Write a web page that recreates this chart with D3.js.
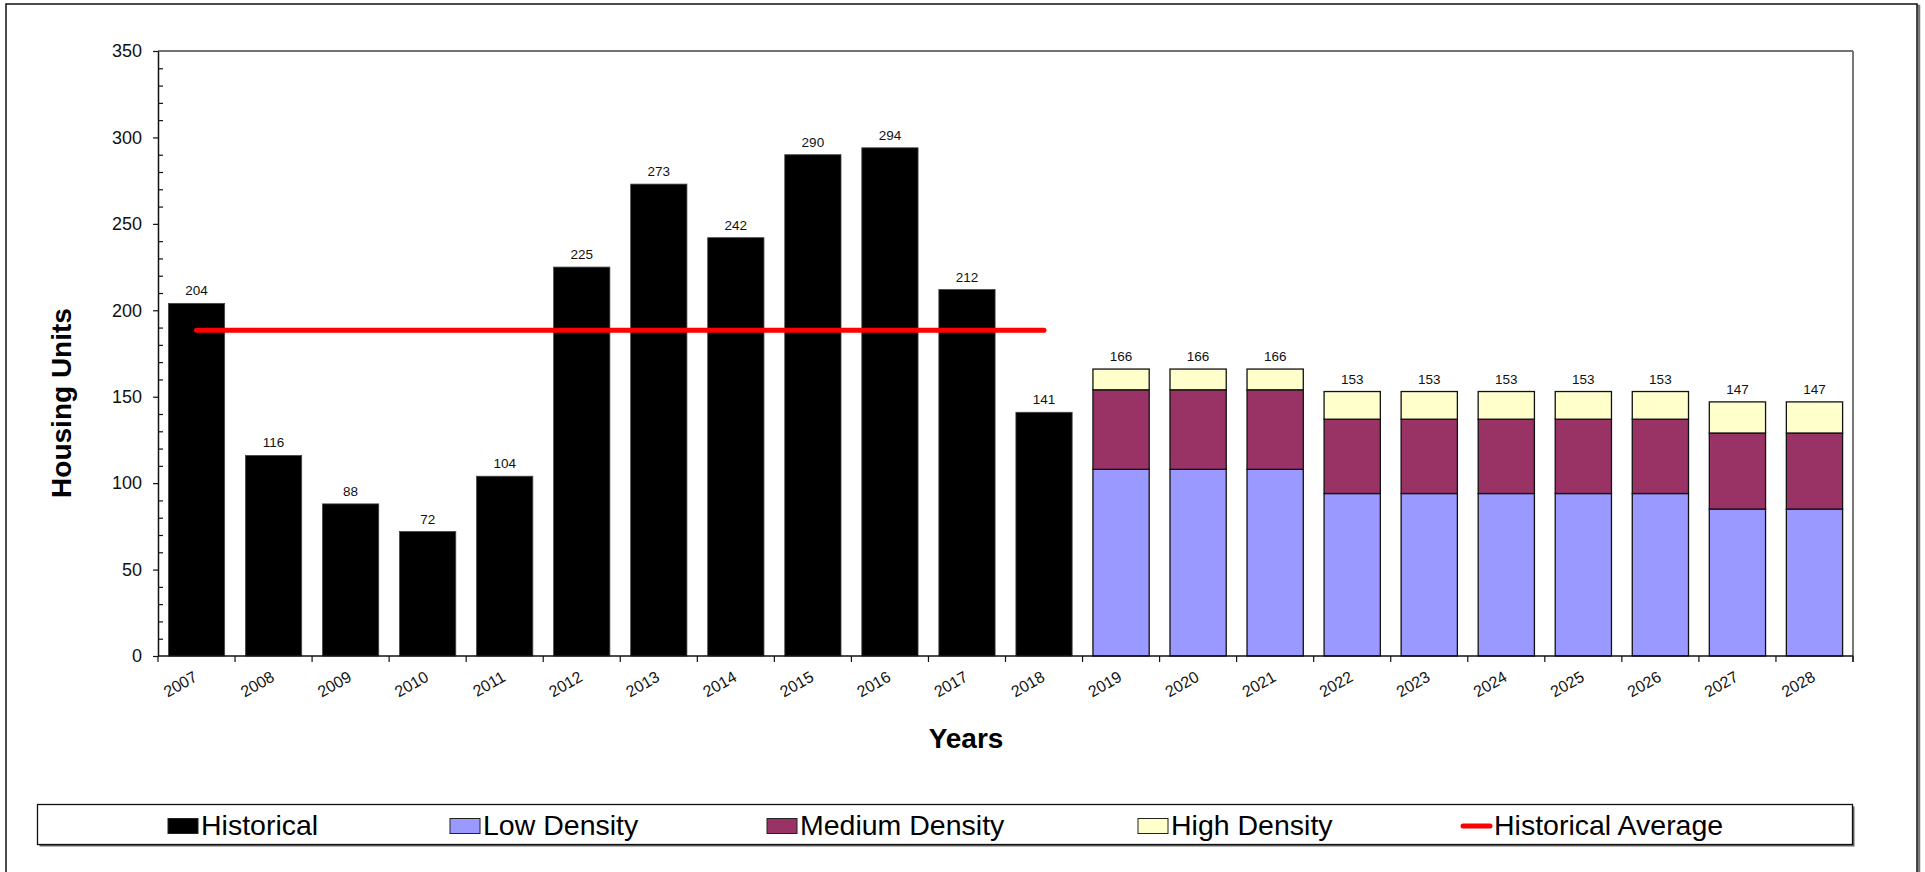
<!DOCTYPE html>
<html>
<head>
<meta charset="utf-8">
<script src="https://cdn.jsdelivr.net/npm/d3@7"></script>
<style>
  html, body { margin: 0; padding: 0; background: #fff; }
  svg { display: block; font-family: "Liberation Sans", Arial, sans-serif; }
</style>
</head>
<body>
<svg id="chart" width="1925" height="872"></svg>
<script>
// Housing units by year: actual completions through 2018, projections by density after
const years = ["2007","2008","2009","2010","2011","2012","2013","2014","2015","2016","2017",
               "2018","2019","2020","2021","2022","2023","2024","2025","2026","2027","2028"];

const historicalYears = ["2007","2008","2009","2010","2011","2012","2013","2014","2015","2016","2017","2018"];
const historical = [204, 116, 88, 72, 104, 225, 273, 242, 290, 294, 212, 141];

const projectionYears = ["2019","2020","2021","2022","2023","2024","2025","2026","2027","2028"];
const lowDensity    = [108, 108, 108, 94, 94, 94, 94, 94, 85, 85];
const mediumDensity = [46, 46, 46, 43, 43, 43, 43, 43, 44, 44];
const highDensity   = [12, 12, 12, 16, 16, 16, 16, 16, 18, 18];

const historicalAverage = [188.4, 188.4, 188.4, 188.4, 188.4, 188.4, 188.4, 188.4, 188.4, 188.4, 188.4, 188.4];

const yTicks = [0, 50, 100, 150, 200, 250, 300, 350];

const legendItems = ["Historical", "Low Density", "Medium Density", "High Density", "Historical Average"];

const colors = { historical: "#000000", low: "#9999FF", medium: "#993366", high: "#FFFFCC", average: "#FF0000" };

const svg = d3.select("#chart");

// outer chart frame (runs off the bottom edge)
svg.append("rect").attr("x", 8).attr("y", 6).attr("width", 1911).attr("height", 900)
  .attr("fill", "none").attr("stroke", "#777").attr("stroke-width", 2.5);
svg.append("rect").attr("x", 6).attr("y", 4).attr("width", 1911).attr("height", 900)
  .attr("fill", "#fff").attr("stroke", "#111").attr("stroke-width", 1.5);

const plotLeft = 158, plotRight = 1853, plotTop = 51, plotBottom = 656;

const x = d3.scaleBand().domain(years).range([plotLeft, plotRight]).paddingInner(0.27).paddingOuter(0.135);
const y = d3.scaleLinear().domain([0, 350]).range([plotBottom, plotTop]);
const step = x.step();
const center = d => x(d) + x.bandwidth() / 2;

// plot area frame (top and right)
svg.append("line").attr("x1", plotLeft).attr("x2", plotRight).attr("y1", plotTop).attr("y2", plotTop)
  .attr("stroke", "#444").attr("stroke-width", 1.5);
svg.append("line").attr("x1", plotRight).attr("x2", plotRight).attr("y1", plotTop).attr("y2", plotBottom + 6)
  .attr("stroke", "#777").attr("stroke-width", 2);

// historical bars
svg.append("g").selectAll("rect").data(historicalYears).join("rect")
  .attr("x", d => x(d)).attr("width", x.bandwidth())
  .attr("y", (d, i) => y(historical[i])).attr("height", (d, i) => y(0) - y(historical[i]))
  .attr("fill", colors.historical).attr("stroke", "#444").attr("stroke-width", 0.8);

// projected stacked bars
const projRows = projectionYears.map((yr, i) => ({
  year: yr, low: lowDensity[i], medium: mediumDensity[i], high: highDensity[i]
}));
const stack = d3.stack().keys(["low", "medium", "high"])(projRows);
svg.append("g").selectAll("g").data(stack).join("g")
  .attr("fill", s => colors[s.key])
  .selectAll("rect").data(s => s).join("rect")
  .attr("x", d => x(d.data.year)).attr("width", x.bandwidth())
  .attr("y", d => y(d[1])).attr("height", d => y(d[0]) - y(d[1]))
  .attr("stroke", "#111").attr("stroke-width", 1.3);

// value labels
const labelFont = 13.5;
svg.append("g").selectAll("text").data(historicalYears).join("text")
  .attr("x", d => center(d)).attr("y", (d, i) => y(historical[i]) - 8)
  .attr("text-anchor", "middle").attr("font-size", labelFont).attr("fill", "#111")
  .text((d, i) => historical[i]);
svg.append("g").selectAll("text").data(projRows).join("text")
  .attr("x", d => center(d.year)).attr("y", d => y(d.low + d.medium + d.high) - 8)
  .attr("text-anchor", "middle").attr("font-size", labelFont).attr("fill", "#111")
  .text(d => d.low + d.medium + d.high);

// historical average line
const avgLine = d3.line().x(d => center(d.year)).y(d => y(d.v));
svg.append("path")
  .datum(historicalYears.map((yr, i) => ({ year: yr, v: historicalAverage[i] })))
  .attr("d", avgLine).attr("fill", "none").attr("stroke", colors.average)
  .attr("stroke-width", 5).attr("stroke-linecap", "round");

// y axis: major ticks outside with labels, minor ticks inside
const yAxis = svg.append("g").attr("transform", `translate(${plotLeft},0)`)
  .call(d3.axisLeft(y).tickValues(yTicks).tickSize(5).tickSizeOuter(0).tickPadding(11));
yAxis.select(".domain").attr("stroke", "#111").attr("stroke-width", 1.5);
yAxis.selectAll(".tick line").attr("stroke", "#111").attr("stroke-width", 1.2);
yAxis.selectAll("text").attr("font-size", 18).attr("fill", "#111")
  .attr("font-family", "Liberation Sans, Arial, sans-serif");

const minorTicks = d3.range(10, 350, 10).filter(v => v % 50 !== 0);
const yMinor = svg.append("g").attr("transform", `translate(${plotLeft},0)`)
  .call(d3.axisLeft(y).tickValues(minorTicks).tickSize(-5).tickSizeOuter(0).tickFormat(""));
yMinor.select(".domain").remove();
yMinor.selectAll(".tick line").attr("stroke", "#111").attr("stroke-width", 1.2);

// x axis: baseline, boundary ticks, rotated year labels
svg.append("line").attr("x1", plotLeft).attr("x2", plotRight).attr("y1", plotBottom).attr("y2", plotBottom)
  .attr("stroke", "#111").attr("stroke-width", 1.6);
const boundaries = years.map(d => center(d) - step / 2).concat([plotRight]);
svg.append("g").selectAll("line").data(boundaries).join("line")
  .attr("x1", d => d).attr("x2", d => d).attr("y1", plotBottom).attr("y2", plotBottom + 6)
  .attr("stroke", "#111").attr("stroke-width", 1.2);
svg.append("g").selectAll("text").data(years).join("text")
  .attr("transform", d => `translate(${center(d) + 2},${plotBottom + 24}) rotate(-30)`)
  .attr("text-anchor", "end").attr("font-size", 16).attr("fill", "#111")
  .text(d => d);

// axis titles
svg.append("text").attr("x", 966).attr("y", 748).attr("text-anchor", "middle")
  .attr("font-size", 28).attr("font-weight", "bold").attr("fill", "#000").text("Years");
svg.append("text").attr("transform", "translate(71,403) rotate(-90)").attr("text-anchor", "middle")
  .attr("font-size", 28).attr("font-weight", "bold").attr("fill", "#000").text("Housing Units");

// legend
const lg = svg.append("g");
lg.append("rect").attr("x", 39.5).attr("y", 806.5).attr("width", 1815).attr("height", 40)
  .attr("fill", "#666");
lg.append("rect").attr("x", 37.5).attr("y", 804.5).attr("width", 1815).attr("height", 40)
  .attr("fill", "#fff").attr("stroke", "#111").attr("stroke-width", 1.3);

const legendFill = [colors.historical, colors.low, colors.medium, colors.high, null];
const legendX = [168, 450, 767, 1138, 1461];
legendItems.forEach((name, i) => {
  const lx = legendX[i];
  if (legendFill[i]) {
    lg.append("rect").attr("x", lx).attr("y", 818.5).attr("width", 30).attr("height", 15)
      .attr("fill", legendFill[i]).attr("stroke", "#222").attr("stroke-width", 1);
  } else {
    lg.append("line").attr("x1", lx + 2).attr("x2", lx + 29).attr("y1", 826).attr("y2", 826)
      .attr("stroke", colors.average).attr("stroke-width", 5).attr("stroke-linecap", "round");
  }
  lg.append("text").attr("x", lx + 33).attr("y", 835)
    .attr("font-size", 28.5).attr("fill", "#000").text(name);
});
</script>
</body>
</html>
